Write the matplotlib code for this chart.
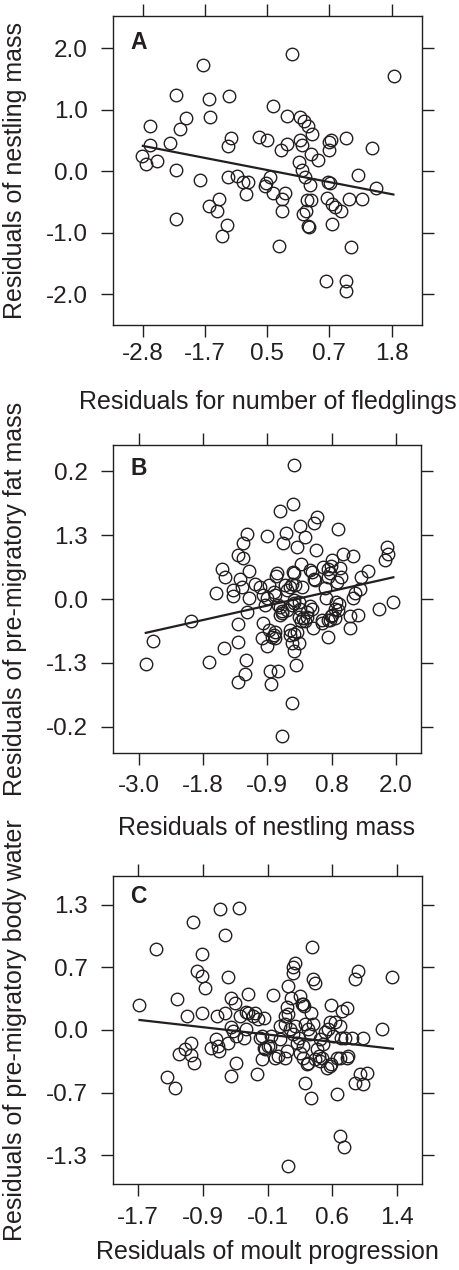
import matplotlib
matplotlib.use("Agg")
import matplotlib.pyplot as plt
import numpy as np

plt.rcParams["font.family"] = ["Liberation Sans", "DejaVu Sans"]

ink = "#231f20"

# Panel A: residuals of nestling mass vs number of fledglings
# x in tick-slot units (tick labels below are not monotonic)
a_x = [-0.01, 0.05, 0.11, 0.11, 0.23, 0.44, 0.54, 0.59, 0.54, 0.70,
       0.53, 0.92, 0.96, 1.07, 1.08, 1.07, 1.22, 1.20, 1.27, 1.36,
       1.38, 1.37, 1.42, 1.37, 1.51, 1.61, 1.69, 1.66, 1.87, 1.99,
       1.98, 1.97, 2.04, 2.10, 2.10, 2.19, 2.22, 2.24, 2.24, 2.29,
       2.32, 2.32, 2.40, 2.51, 2.53, 2.52, 2.56, 2.56, 2.60, 2.61,
       2.58, 2.66, 2.64, 2.62, 2.66, 2.72, 2.69, 2.71, 2.70, 2.81,
       2.68, 2.96, 2.98, 3.01, 2.99, 3.03, 2.99, 3.04, 3.04, 3.09,
       3.19, 3.26, 3.27, 3.27, 3.31, 2.95, 3.35, 3.46, 3.53, 3.68,
       3.75, 4.04]
a_y = [0.24, 0.11, 0.42, 0.74, 0.16, 0.46, 1.24, 0.69, 0.01, 0.86,
       -0.78, -0.15, 1.73, 1.17, 0.88, -0.56, -0.46, -0.64, -1.05, -0.87,
       1.22, 0.40, 0.54, -0.10, -0.08, -0.18, -0.18, -0.37, 0.56, 0.50,
       -0.20, -0.24, -0.10, 1.06, -0.36, -1.21, 0.34, -0.45, -0.65, -0.35,
       0.89, 0.44, 1.91, 0.15, 0.88, 0.50, 0.42, 0.01, 0.81, -0.09,
       -0.69, 0.73, -0.47, -0.64, -0.89, 0.60, -0.22, -0.47, 0.28, 0.18,
       -0.91, -0.44, -0.18, -0.20, 0.47, 0.50, 0.34, -0.86, -0.54, -0.59,
       -0.65, 0.53, -1.78, -1.95, -0.46, -1.79, -1.24, -0.06, -0.46, 0.37,
       -0.28, 1.54]
a_fit_x = [0.0, 4.03]
a_fit_y = [0.41, -0.38]

# Panel B: pre-migratory fat mass vs nestling mass (tick-slot units)
b_x = [0.11, 0.22, 0.82, 1.10, 1.20, 1.33, 1.55, 1.55, 1.67, 1.66,
       1.55, 1.30, 1.34, 1.47, 1.46, 1.69, 1.62, 1.55, 1.62, 1.71,
       1.57, 1.61, 1.68, 1.71, 1.81, 1.89, 1.99, 2.19, 2.40, 2.42,
       2.29, 2.25, 2.51, 2.58, 2.46, 2.73, 2.77, 2.75, 3.10, 3.17,
       3.33, 3.86, 3.87, 3.83, 3.56, 3.46, 3.44, 3.37, 3.33, 3.73,
       3.95, 3.28, 3.41, 3.28, 2.95, 2.38, 2.23, 2.44, 2.42, 2.04,
       2.16, 2.05, 1.99, 1.91, 1.94, 2.02, 2.10, 2.52, 2.66, 2.40,
       2.15, 2.14, 2.87, 2.95, 3.00, 2.99, 3.13, 2.94, 3.14, 2.98,
       2.73, 2.54, 2.28, 2.30, 2.36, 2.11, 2.02, 1.99, 1.97, 1.94,
       2.12, 2.20, 2.23, 2.30, 2.41, 2.49, 2.51, 2.42, 2.38, 2.17,
       2.23, 2.20, 2.92, 3.07, 3.12, 3.06, 3.10, 2.67, 2.69, 2.61,
       2.99, 2.98, 2.49, 2.56, 2.61, 2.53, 2.59, 2.71, 2.85, 2.36,
       2.41, 2.46, 2.35, 2.12, 2.07, 2.12, 2.38, 2.49, 2.85, 2.95,
       3.00, 3.06, 2.38, 2.43, 2.41, 2.69, 2.74, 3.08, 2.90]
b_y = [-1.01, -0.65, -0.34, -0.99, 0.10, -0.76, -0.68, -1.30, -0.95, -1.18,
       -0.39, 0.47, 0.35, 0.14, 0.05, 1.01, 0.87, 0.69, 0.64, 0.44,
       0.31, 0.19, -0.21, 0.01, 0.24, 0.19, 0.99, 1.37, 1.48, 2.10,
       1.04, 0.88, 1.15, 0.97, 0.81, 1.19, 1.29, 0.76, 1.10, 0.70,
       0.67, 0.81, 0.71, 0.61, 0.44, 0.35, 0.15, 0.09, 0.01, -0.16,
       -0.05, -0.26, -0.25, -0.45, -0.60, -1.63, -2.15, -1.04, -0.82, -1.13,
       -1.12, -1.33, -0.74, -0.61, -0.38, -0.48, -0.56, 0.55, 0.45, 0.43,
       0.40, 0.36, 0.50, 0.47, 0.61, 0.52, 0.49, 0.35, 0.35, 0.40,
       0.31, 0.18, 0.22, 0.14, 0.19, 0.11, 0.22, 0.01, -0.09, 0.06,
       0.06, -0.12, -0.22, -0.17, -0.07, -0.04, -0.15, -0.02, -0.09, -0.09,
       -0.18, -0.25, 0.02, -0.04, -0.08, -0.15, -0.17, -0.11, -0.15, -0.20,
       -0.26, -0.33, -0.28, -0.29, -0.28, -0.35, -0.34, -0.46, -0.33, -0.48,
       -0.54, -0.51, -0.56, -0.51, -0.59, -0.61, -0.69, -0.69, -0.38, -0.33,
       -0.25, -0.30, 0.24, 0.22, 0.40, 0.43, 0.30, 0.27, 0.17]
b_fit_x = [0.11, 3.96]
b_fit_y = [-0.53, 0.34]

# Panel C: pre-migratory body water vs moult progression (tick-slot units)
c_x = [0.01, 0.28, 0.60, 0.75, 0.85, 0.99, 0.91, 0.99, 1.04, 1.26,
       1.56, 1.35, 1.39, 0.99, 1.22, 1.35, 1.44, 1.49, 1.70, 1.57,
       1.66, 1.70, 1.77, 1.85, 1.95, 1.44, 1.47, 1.52, 1.64, 1.66,
       1.39, 1.21, 1.12, 1.23, 1.25, 0.82, 0.72, 0.63, 0.81, 0.87,
       0.44, 0.57, 1.52, 1.43, 1.84, 1.88, 1.94, 1.92, 2.09, 2.69,
       2.43, 2.39, 2.40, 2.70, 2.74, 2.31, 2.37, 2.50, 2.30, 2.53,
       2.57, 2.27, 2.32, 2.68, 2.98, 3.16, 3.23, 3.40, 3.35, 3.92,
       3.77, 2.19, 2.27, 2.43, 2.58, 2.71, 2.63, 2.97, 3.05, 3.12,
       2.89, 2.94, 3.14, 3.31, 3.47, 2.06, 2.01, 1.96, 2.12, 2.27,
       2.50, 2.55, 2.61, 2.63, 2.76, 2.79, 2.84, 2.81, 2.92, 2.97,
       3.07, 3.12, 3.24, 3.35, 3.43, 3.54, 3.48, 2.58, 2.67, 3.07,
       3.12, 3.18, 2.32, 2.35, 2.40, 2.48, 2.45, 2.55, 2.66, 2.81,
       2.86, 3.02, 3.20, 2.04, 2.17, 2.30, 2.74, 2.99, 2.19, 1.91,
       2.55, 1.81, 3.23]
c_y = [0.40, 1.30, 0.50, 0.22, 1.72, 1.22, 0.95, 0.87, 0.67, 1.94,
       1.95, 1.51, 0.84, 0.27, 0.23, 0.27, 0.51, 0.43, 0.57, 0.22,
       0.29, 0.27, 0.23, 0.17, 0.19, 0.04, -0.01, -0.10, -0.13, 0.02,
       -0.20, -0.14, -0.29, -0.26, -0.33, -0.20, -0.30, -0.39, -0.40, -0.53,
       -0.75, -0.92, -0.52, -0.73, -0.70, -0.12, -0.29, -0.46, 0.56, 1.32,
       1.07, 1.00, 0.91, 0.81, 0.75, 0.71, 0.51, 0.55, 0.36, 0.42,
       0.38, 0.23, 0.26, 0.27, 0.40, 0.31, 0.35, 0.94, 0.82, 0.85,
       0.02, 0.07, 0.10, 0.07, 0.10, 0.10, 0.02, 0.12, 0.12, 0.07,
       -0.03, 0.01, -0.12, -0.13, -0.13, -0.09, -0.25, -0.30, -0.44, -0.45,
       -0.36, -0.44, -0.54, -0.52, -0.30, -0.41, -0.44, -0.49, -0.60, -0.57,
       -0.45, -0.44, -0.41, -0.84, -0.71, -0.68, -0.86, -0.85, -1.08, -1.02,
       -1.70, -1.87, -2.17, 0.01, -0.07, -0.13, -0.21, -0.26, -0.07, -0.15,
       -0.23, -0.10, -0.13, -0.26, -0.42, -0.34, -0.47, -0.55, -0.15, -0.10,
       0.41, 0.27, -0.45]
c_fit_x = [0.02, 3.94]
c_fit_y = [0.16, -0.30]

tick_pos = [0, 1, 2, 3, 4]
ytick_pos = [2, 1, 0, -1, -2]

panels = [
    dict(x=a_x, y=a_y, fx=a_fit_x, fy=a_fit_y, letter="A",
         xticklabels=["-2.8", "-1.7", "0.5", "0.7", "1.8"],
         yticklabels=["2.0", "1.0", "0.0", "-1.0", "-2.0"],
         xlabel="Residuals for number of fledglings",
         ylabel="Residuals of nestling mass",
         rect=[113, 16, 309, 309], xlim=(-0.48, 4.49), ylim=(-2.50, 2.52),
         letter_y=0.913, xlab_base=409, xpad=4.5),
    dict(x=b_x, y=b_y, fx=b_fit_x, fy=b_fit_y, letter="B",
         xticklabels=["-3.0", "-1.8", "-0.9", "0.8", "2.0"],
         yticklabels=["0.2", "1.3", "0.0", "-1.3", "-0.2"],
         xlabel="Residuals of nestling mass",
         ylabel="Residuals of pre-migratory fat mass",
         rect=[113, 445, 308, 308], xlim=(-0.40, 4.39), ylim=(-2.41, 2.41),
         letter_y=0.924, xlab_base=835, xpad=7.5),
    dict(x=c_x, y=c_y, fx=c_fit_x, fy=c_fit_y, letter="C",
         xticklabels=["-1.7", "-0.9", "-0.1", "0.6", "1.4"],
         yticklabels=["1.3", "0.7", "0.0", "-0.7", "-1.3"],
         xlabel="Residuals of moult progression",
         ylabel="Residuals of pre-migratory body water",
         rect=[113, 876, 309, 308], xlim=(-0.39, 4.39), ylim=(-2.46, 2.46),
         letter_y=0.932, xlab_base=1259, xpad=8),
]

W, H = 459, 1270
fig = plt.figure(figsize=(W / 100, H / 100), dpi=100)

for p in panels:
    left, top, w, h = p["rect"]
    ax = fig.add_axes([left / W, 1 - (top + h) / H, w / W, h / H])
    ax.plot(p["x"], p["y"], "o", ms=9.0, mfc="none", mec=ink, mew=1.0)
    ax.plot(p["fx"], p["fy"], "-", color=ink, lw=1.6)
    ax.set_xlim(p["xlim"])
    ax.set_ylim(p["ylim"])
    ax.set_xticks(tick_pos)
    ax.set_xticklabels(p["xticklabels"])
    ax.set_yticks(ytick_pos)
    ax.set_yticklabels(p["yticklabels"])
    ax.tick_params(direction="out", length=8.6, width=1.0, colors=ink,
                   labelsize=17.5, top=True, right=True)
    ax.tick_params(axis="x", pad=p["xpad"])
    ax.tick_params(axis="y", pad=9.4)
    for s in ax.spines.values():
        s.set_color(ink)
        s.set_linewidth(1.0)
    ax.text(0.083, p["letter_y"], p["letter"], transform=ax.transAxes,
            ha="center", va="center", fontsize=16.5, fontweight="bold", color=ink)
    cx = (left + w / 2) / W
    fig.text(cx, 1 - p["xlab_base"] / H, p["xlabel"], ha="center",
             va="baseline", fontsize=18, color=ink)
    fig.text(15 / W, 1 - (top + h / 2) / H, p["ylabel"], rotation=90,
             ha="center", va="center", fontsize=18, color=ink)

fig.savefig("out.png", dpi=100)
